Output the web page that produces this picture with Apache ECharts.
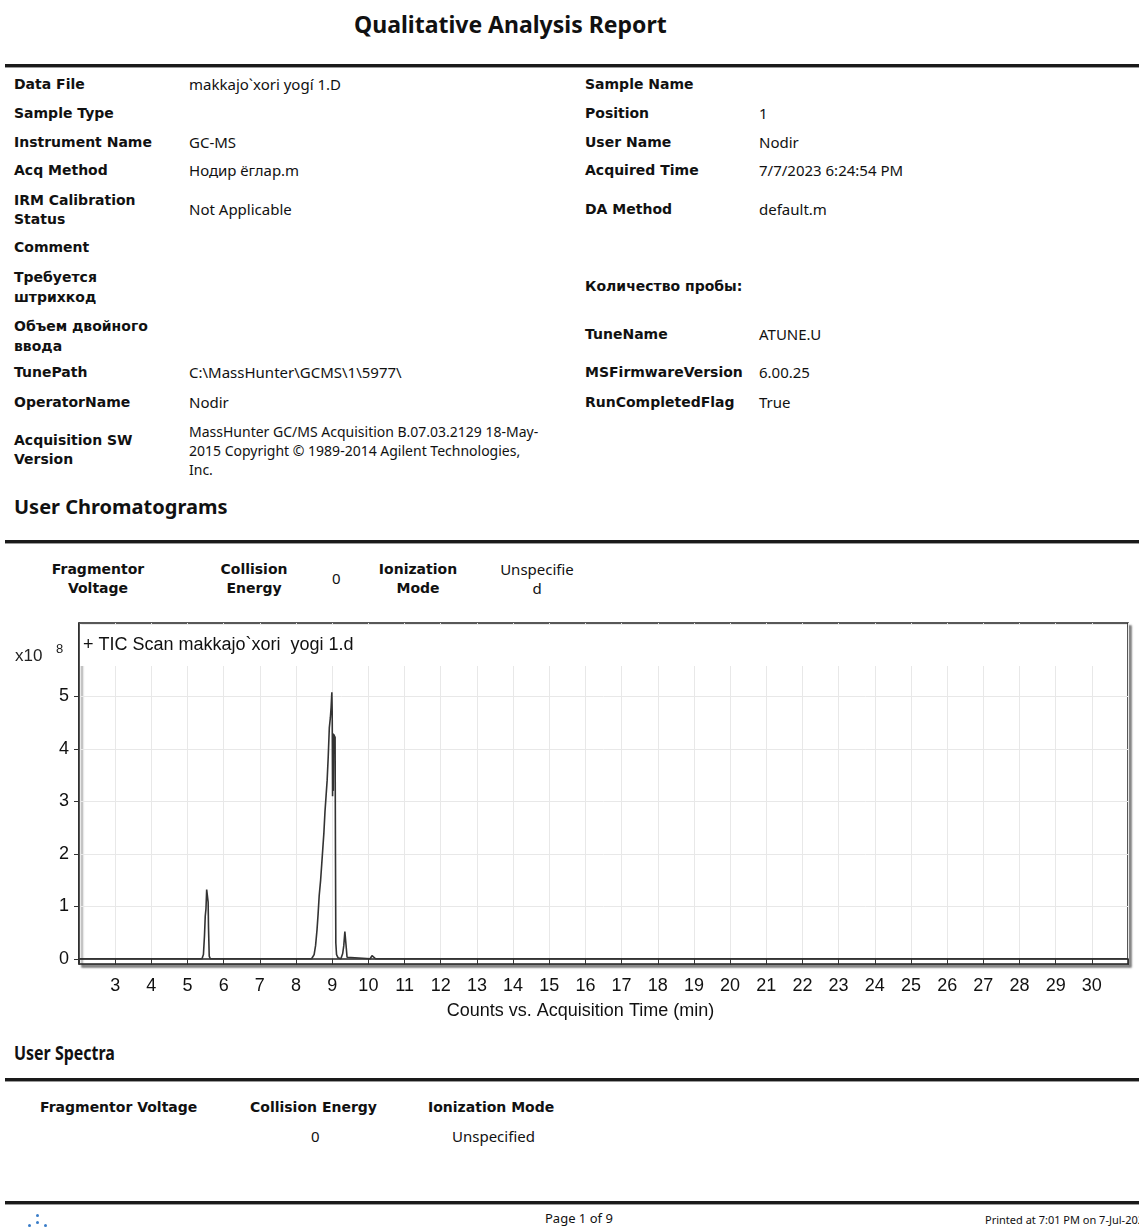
<!DOCTYPE html>
<html>
<head>
<meta charset="utf-8">
<script src="https://cdn.jsdelivr.net/npm/echarts@6/dist/echarts.min.js"></script>
<style>
  body { margin: 0; background: #fff; }
  #page { position: relative; width: 1139px; height: 1229px; overflow: hidden; font-family: "DejaVu Sans", sans-serif; color: #111; }
  .t { position: absolute; white-space: nowrap; line-height: 19px; font-size: 14px; }
  .lb { font-weight: bold; }
  .v { font-family: "Noto Sans", sans-serif; font-size: 15px; }
  .c { text-align: center; width: 140px; }
  .rule { position: absolute; left: 5px; width: 1134px; height: 3px; background: #1a1a1a; border-bottom: 1px solid #9a9a9a; }
  .h2 { font-family: "Noto Sans", sans-serif; font-weight: bold; font-size: 20px; line-height: 22px; }
  .foot { font-family: "Noto Sans", sans-serif; font-size: 11px; }
  .dot { position: absolute; width: 3px; height: 3px; border-radius: 2px; background: #3a7dc9; }
  #chart { position: absolute; left: 0; top: 600px; width: 1139px; height: 440px; }
</style>
</head>
<body>
<div id="page">
  <div class="t" style="left:354px;top:9px;font-family:'Noto Sans';font-weight:bold;font-size:23px;line-height:30px;">Qualitative Analysis Report</div>
  <div class="rule" style="top:64px"></div>

  <!-- left column -->
  <div class="t lb" style="left:14px;top:75px">Data File</div>
  <div class="t v" style="left:189px;top:75px">makkajo`xori yogí 1.D</div>
  <div class="t lb" style="left:14px;top:104px">Sample Type</div>
  <div class="t lb" style="left:14px;top:133px">Instrument Name</div>
  <div class="t v" style="left:189px;top:133px">GC-MS</div>
  <div class="t lb" style="left:14px;top:161px">Acq Method</div>
  <div class="t v" style="left:189px;top:161px">Нодир ёглар.m</div>
  <div class="t lb" style="left:14px;top:191px">IRM Calibration<br>Status</div>
  <div class="t v" style="left:189px;top:200px">Not Applicable</div>
  <div class="t lb" style="left:14px;top:238px">Comment</div>
  <div class="t lb" style="left:14px;top:267px;line-height:20px">Требуется<br>штрихкод</div>
  <div class="t lb" style="left:14px;top:316px;line-height:20px">Объем двойного<br>ввода</div>
  <div class="t lb" style="left:14px;top:363px">TunePath</div>
  <div class="t v" style="left:189px;top:363px">C:\MassHunter\GCMS\1\5977\</div>
  <div class="t lb" style="left:14px;top:393px">OperatorName</div>
  <div class="t v" style="left:189px;top:393px">Nodir</div>
  <div class="t lb" style="left:14px;top:431px">Acquisition SW<br>Version</div>
  <div class="t v" style="left:189px;top:422px;font-size:14px">MassHunter GC/MS Acquisition B.07.03.2129 18-May-<br>2015 Copyright © 1989-2014 Agilent Technologies,<br>Inc.</div>

  <!-- right column -->
  <div class="t lb" style="left:585px;top:75px">Sample Name</div>
  <div class="t lb" style="left:585px;top:104px">Position</div>
  <div class="t v" style="left:759px;top:104px">1</div>
  <div class="t lb" style="left:585px;top:133px">User Name</div>
  <div class="t v" style="left:759px;top:133px">Nodir</div>
  <div class="t lb" style="left:585px;top:161px">Acquired Time</div>
  <div class="t v" style="left:759px;top:161px">7/7/2023 6:24:54 PM</div>
  <div class="t lb" style="left:585px;top:200px">DA Method</div>
  <div class="t v" style="left:759px;top:200px">default.m</div>
  <div class="t lb" style="left:585px;top:277px">Количество пробы:</div>
  <div class="t lb" style="left:585px;top:325px">TuneName</div>
  <div class="t v" style="left:759px;top:325px">ATUNE.U</div>
  <div class="t lb" style="left:585px;top:363px">MSFirmwareVersion</div>
  <div class="t v" style="left:759px;top:363px">6.00.25</div>
  <div class="t lb" style="left:585px;top:393px">RunCompletedFlag</div>
  <div class="t v" style="left:759px;top:393px">True</div>

  <div class="t h2" style="left:14px;top:496px">User Chromatograms</div>
  <div class="rule" style="top:540px"></div>
  <div class="t lb c" style="left:28px;top:560px">Fragmentor<br>Voltage</div>
  <div class="t lb c" style="left:184px;top:560px">Collision<br>Energy</div>
  <div class="t v" style="left:332px;top:569px">0</div>
  <div class="t lb c" style="left:348px;top:560px">Ionization<br>Mode</div>
  <div class="t v c" style="left:467px;top:560px">Unspecifie<br>d</div>

  <div id="chart"></div>

  <div class="t h2" style="left:14px;top:1042px;font-size:19px;transform:scaleX(0.84);transform-origin:left center">User Spectra</div>
  <div class="rule" style="top:1078px"></div>
  <div class="t lb" style="left:40px;top:1098px">Fragmentor Voltage</div>
  <div class="t lb" style="left:250px;top:1098px">Collision Energy</div>
  <div class="t lb" style="left:428px;top:1098px">Ionization Mode</div>
  <div class="t v" style="left:311px;top:1127px">0</div>
  <div class="t v" style="left:452px;top:1127px">Unspecified</div>

  <div class="rule" style="top:1201px"></div>
  <div class="dot" style="left:36px;top:1214px"></div>
  <div class="dot" style="left:36px;top:1221px"></div>
  <div class="dot" style="left:28px;top:1224px"></div>
  <div class="dot" style="left:44px;top:1224px"></div>
  <div class="t foot" style="left:545px;top:1209px;font-size:13px">Page 1 of 9</div>
  <div class="t foot" style="left:985px;top:1210px">Printed at 7:01 PM on 7-Jul-2023</div>
</div>

<script>
// retention time (min) and TIC counts (x10^8)
const retTime = [
  2.0, 5.40, 5.44, 5.47, 5.49, 5.51, 5.53, 5.55, 5.57, 5.58, 5.60, 5.63,
  8.43, 8.50, 8.54, 8.58, 8.61, 8.64, 8.68, 8.71, 8.74, 8.77, 8.80, 8.83, 8.86, 8.89, 8.92, 8.95, 8.97, 8.99, 9.00, 9.01, 9.02, 9.03, 9.04, 9.06, 9.08, 9.09, 9.10, 9.12, 9.16,
  9.24, 9.29, 9.32, 9.35, 9.37, 9.39, 9.41, 9.45,
  10.05, 10.10, 10.14, 10.20,
  13.55, 13.60, 13.66,
  19.95, 20.00, 20.05,
  31.0
];
const ticCounts = [
  0, 0, 0.08, 0.45, 0.81, 0.95, 1.32, 1.30, 1.08, 0.60, 0.05, 0,
  0, 0.08, 0.25, 0.55, 0.85, 1.20, 1.50, 1.80, 2.10, 2.40, 2.80, 3.10, 3.40, 3.85, 4.40, 4.60, 4.80, 5.08, 4.70, 3.10, 4.30, 3.20, 4.28, 4.25, 4.22, 2.00, 0.30, 0.08, 0.02,
  0, 0.10, 0.25, 0.52, 0.50, 0.20, 0.03, 0,
  0, 0.06, 0.04, 0,
  0, 0.025, 0,
  0, 0.035, 0,
  0
];
const yTicks = [0, 1, 2, 3, 4, 5];
const yGrid = [1, 2, 3, 4, 5];
const traceName = '+ TIC Scan makkajo`xori  yogi 1.d';

let myChart = echarts.init(document.getElementById('chart'));
let axisFont = 'Liberation Sans';

myChart.setOption({
  animation: false,
  title: {
    text: traceName,
    left: 83,
    top: 36,
    padding: 0,
    textStyle: { fontFamily: axisFont, fontSize: 18, fontWeight: 'normal', color: '#111' }
  },
  graphic: [
    // white band under the trace name, grid lines start below it
    { type: 'rect', z: 1, shape: { x: 80, y: 25, width: 1047, height: 41 }, style: { fill: '#fff' } },
    { type: 'text', left: 15, top: 48, style: { text: 'x10', fontFamily: axisFont, fontSize: 17, fill: '#222' } },
    { type: 'text', left: 56, top: 43, style: { text: '8', fontFamily: axisFont, fontSize: 13, fill: '#222' } }
  ],
  grid: {
    left: 79,
    right: 11,
    top: 23,
    bottom: 76,
    show: true,
    backgroundColor: '#fff',
    borderColor: '#222',
    borderWidth: 1.5,
    shadowColor: 'rgba(0,0,0,0.45)',
    shadowBlur: 2,
    shadowOffsetX: 3,
    shadowOffsetY: 3
  },
  xAxis: {
    type: 'value',
    min: 2,
    max: 31,
    interval: 1,
    name: 'Counts vs. Acquisition Time (min)',
    nameLocation: 'middle',
    nameGap: 38,
    nameTextStyle: { fontFamily: axisFont, fontSize: 18, color: '#111', padding: [0, 46, 0, 0] },
    axisLine: { lineStyle: { color: '#222', width: 1.5 } },
    axisTick: { length: 6, lineStyle: { color: '#333' } },
    axisLabel: {
      margin: 13,
      fontFamily: axisFont,
      fontSize: 18,
      color: '#111',
      formatter: function (v) { return (v >= 3 && v <= 30) ? v : ''; }
    },
    splitLine: { show: true, lineStyle: { color: '#e8e8e8', width: 1 } }
  },
  yAxis: {
    type: 'value',
    min: -0.1,
    max: 6.4,
    axisLine: { show: true, lineStyle: { color: '#222', width: 1.5 } },
    axisTick: { show: true, length: 5, customValues: yTicks, lineStyle: { color: '#333' } },
    axisLabel: { margin: 10, fontFamily: axisFont, fontSize: 18, color: '#111', customValues: yTicks },
    splitLine: { show: false }
  },
  series: [
    {
      // horizontal grid lines
      type: 'line',
      z: 0,
      data: [[2, 0]],
      showSymbol: false,
      lineStyle: { opacity: 0 },
      silent: true,
      markLine: {
        silent: true,
        symbol: 'none',
        z: 0,
        label: { show: false },
        lineStyle: { color: '#e8e8e8', type: 'solid', width: 1 },
        data: yGrid.map(function (v) { return { yAxis: v }; })
      }
    },
    {
      name: traceName,
      type: 'line',
      z: 3,
      showSymbol: false,
      data: retTime.map(function (t, i) { return [t, ticCounts[i]]; }),
      lineStyle: { color: '#333', width: 1.6 }
    }
  ]
});
</script>
</body>
</html>
